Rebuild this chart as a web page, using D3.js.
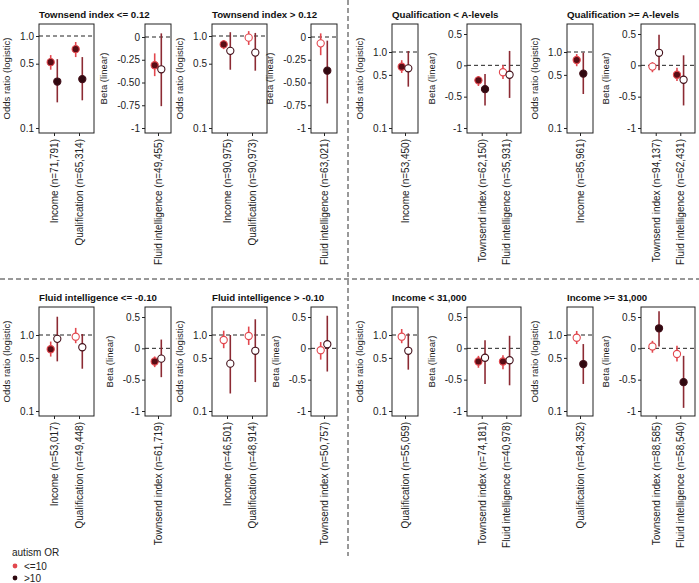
<!DOCTYPE html>
<html>
<head>
<meta charset="utf-8">
<script src="https://cdn.jsdelivr.net/npm/d3@7"></script>
<style>
  body { margin: 0; background: #fff; }
  svg { font-family: Arial, Helvetica, "Liberation Sans", sans-serif; }
</style>
</head>
<body>
<svg id="chart" width="699" height="583"></svg>
<script>
// ---- data ----
const groupTitles = [
  "Townsend index <= 0.12", "Townsend index > 0.12",
  "Qualification < A-levels", "Qualification >= A-levels",
  "Fluid intelligence <= -0.10", "Fluid intelligence > -0.10",
  "Income < 31,000", "Income >= 31,000"
];
const classes = ["<=10", ">10"];

// row: [category, autism OR class, estimate, lower, upper, filled]
const townsendLowOR = [
  ["Income (n=71,791)", "<=10", 0.52, 0.43, 0.62, 1],
  ["Income (n=71,791)", ">10", 0.32, 0.19, 0.56, 1],
  ["Qualification (n=65,314)", "<=10", 0.72, 0.59, 0.86, 1],
  ["Qualification (n=65,314)", ">10", 0.34, 0.20, 0.59, 1]
];
const townsendLowBeta = [
  ["Fluid intelligence (n=49,455)", "<=10", -0.31, -0.43, -0.18, 1],
  ["Fluid intelligence (n=49,455)", ">10", -0.355, -0.76, 0.04, 0]
];
const townsendHighOR = [
  ["Income (n=90,975)", "<=10", 0.81, 0.72, 0.90, 1],
  ["Income (n=90,975)", ">10", 0.69, 0.43, 1.10, 0],
  ["Qualification (n=90,973)", "<=10", 0.96, 0.80, 1.13, 0],
  ["Qualification (n=90,973)", ">10", 0.66, 0.42, 1.08, 0]
];
const townsendHighBeta = [
  ["Fluid intelligence (n=63,021)", "<=10", -0.07, -0.20, 0.04, 0],
  ["Fluid intelligence (n=63,021)", ">10", -0.37, -0.73, -0.04, 1]
];
const qualLowOR = [
  ["Income (n=53,450)", "<=10", 0.64, 0.53, 0.78, 1],
  ["Income (n=53,450)", ">10", 0.61, 0.35, 1.03, 0]
];
const qualLowBeta = [
  ["Townsend index (n=62,150)", "<=10", -0.24, -0.33, -0.17, 1],
  ["Townsend index (n=62,150)", ">10", -0.38, -0.64, -0.14, 1],
  ["Fluid intelligence (n=35,931)", "<=10", -0.11, -0.22, 0.005, 0],
  ["Fluid intelligence (n=35,931)", ">10", -0.15, -0.52, 0.23, 0]
];
const qualHighOR = [
  ["Income (n=85,961)", "<=10", 0.785, 0.65, 0.94, 1],
  ["Income (n=85,961)", ">10", 0.52, 0.28, 0.98, 1]
];
const qualHighBeta = [
  ["Townsend index (n=94,137)", "<=10", -0.02, -0.11, 0.05, 0],
  ["Townsend index (n=94,137)", ">10", 0.20, -0.08, 0.49, 0],
  ["Fluid intelligence (n=62,431)", "<=10", -0.15, -0.25, -0.04, 1],
  ["Fluid intelligence (n=62,431)", ">10", -0.23, -0.64, 0.16, 0]
];
const fluidLowOR = [
  ["Income (n=53,017)", "<=10", 0.65, 0.52, 0.82, 1],
  ["Income (n=53,017)", ">10", 0.89, 0.45, 1.74, 0],
  ["Qualification (n=49,448)", "<=10", 0.95, 0.78, 1.24, 0],
  ["Qualification (n=49,448)", ">10", 0.69, 0.36, 1.03, 0]
];
const fluidLowBeta = [
  ["Townsend index (n=61,719)", "<=10", -0.21, -0.30, -0.13, 1],
  ["Townsend index (n=61,719)", ">10", -0.165, -0.46, 0.14, 0]
];
const fluidHighOR = [
  ["Income (n=46,501)", "<=10", 0.86, 0.67, 1.14, 0],
  ["Income (n=46,501)", ">10", 0.42, 0.17, 1.0, 0],
  ["Qualification (n=48,914)", "<=10", 0.97, 0.74, 1.29, 0],
  ["Qualification (n=48,914)", ">10", 0.62, 0.24, 1.61, 0]
];
const fluidHighBeta = [
  ["Townsend index (n=50,757)", "<=10", -0.03, -0.18, 0.10, 0],
  ["Townsend index (n=50,757)", ">10", 0.065, -0.37, 0.52, 0]
];
const incomeLowOR = [
  ["Qualification (n=55,059)", "<=10", 0.95, 0.78, 1.2, 0],
  ["Qualification (n=55,059)", ">10", 0.62, 0.35, 1.05, 0]
];
const incomeLowBeta = [
  ["Townsend index (n=74,181)", "<=10", -0.21, -0.31, -0.12, 1],
  ["Townsend index (n=74,181)", ">10", -0.15, -0.57, 0.13, 0],
  ["Fluid intelligence (n=40,978)", "<=10", -0.21, -0.335, -0.11, 1],
  ["Fluid intelligence (n=40,978)", ">10", -0.19, -0.59, 0.20, 0]
];
const incomeHighOR = [
  ["Qualification (n=84,352)", "<=10", 0.92, 0.76, 1.13, 0],
  ["Qualification (n=84,352)", ">10", 0.415, 0.227, 0.76, 1]
];
const incomeHighBeta = [
  ["Townsend index (n=88,585)", "<=10", 0.03, -0.07, 0.12, 0],
  ["Townsend index (n=88,585)", ">10", 0.32, 0.03, 0.59, 1],
  ["Fluid intelligence (n=58,540)", "<=10", -0.09, -0.21, 0.04, 0],
  ["Fluid intelligence (n=58,540)", ">10", -0.54, -0.95, -0.12, 1]
];

const orTicks = [1, 0.5, 0.1];
const orTickLabels = ["1.0", "0.5", "0.1"];
const betaTicksA = [0, -0.25, -0.5, -0.75, -1];
const betaTickLabelsA = ["0", "-0.25", "-0.50", "-0.75", "-1"];
const betaTicksB = [0.5, 0, -0.5, -1];
const betaTickLabelsB = ["0.5", "0", "-0.5", "-1"];

// ---- layout ----
const boxH = 109;
const groups = [
  { or: townsendLowOR,  beta: townsendLowBeta,  orX: [39, 94],   betaX: [145, 171], top: 24,  kind: "a" },
  { or: townsendHighOR, beta: townsendHighBeta, orX: [212, 267], betaX: [311, 337], top: 24,  kind: "a" },
  { or: qualLowOR,      beta: qualLowBeta,      orX: [392, 418], betaX: [467, 521], top: 24,  kind: "b" },
  { or: qualHighOR,     beta: qualHighBeta,     orX: [567, 593], betaX: [641, 695], top: 24,  kind: "b" },
  { or: fluidLowOR,     beta: fluidLowBeta,     orX: [39, 94],   betaX: [145, 171], top: 307, kind: "b" },
  { or: fluidHighOR,    beta: fluidHighBeta,    orX: [212, 267], betaX: [311, 337], top: 307, kind: "b" },
  { or: incomeLowOR,    beta: incomeLowBeta,    orX: [392, 418], betaX: [467, 521], top: 307, kind: "b" },
  { or: incomeHighOR,   beta: incomeHighBeta,   orX: [567, 593], betaX: [641, 695], top: 307, kind: "b" }
];

const lineColor = { "<=10": "#e2474e", ">10": "#8c2a33" };
const ptStroke = { "<=10": "#e2474e", ">10": "#43101a" };
const ptFill = { "<=10": "#5a0d15", ">10": "#300910" };
const dodge = { "<=10": -3.3, ">10": 3.3 };
const ink = "#222";

const svg = d3.select("#chart");

function panel(rows, xr, top, y, ticks, labels, refValue, yTitle) {
  const cats = Array.from(new Set(rows.map((d) => d[0])));
  const x = d3.scalePoint().domain(cats).range(xr).padding(0.6);
  const bottom = top + boxH;
  const g = svg.append("g");

  // y axis
  const ya = g
    .append("g")
    .attr("transform", `translate(${xr[0]},0)`)
    .call(
      d3.axisLeft(y).tickValues(ticks).tickFormat((_, i) => labels[i]).tickSize(3).tickPadding(2)
    );
  ya.select(".domain").remove();
  ya.selectAll("line").attr("stroke", ink);
  ya.selectAll("text").attr("font-size", 10).attr("fill", ink).attr("font-family", null);

  // x axis, rotated labels
  const xa = g
    .append("g")
    .attr("transform", `translate(0,${bottom})`)
    .call(d3.axisBottom(x).tickSize(3));
  xa.select(".domain").remove();
  xa.selectAll("line").attr("stroke", ink);
  xa.selectAll("text")
    .attr("font-size", 10)
    .attr("fill", ink)
    .attr("font-family", null)
    .attr("transform", "rotate(-90)")
    .attr("text-anchor", "end")
    .attr("x", -6)
    .attr("y", 0)
    .attr("dy", "0.35em");

  // reference line
  g.append("line")
    .attr("x1", xr[0])
    .attr("x2", xr[1])
    .attr("y1", y(refValue))
    .attr("y2", y(refValue))
    .attr("stroke", ink)
    .attr("stroke-width", 1)
    .attr("stroke-dasharray", "4,3");

  // error bars and points
  const pts = g.selectAll(".pt").data(rows).enter().append("g");
  pts
    .append("line")
    .attr("x1", (d) => x(d[0]) + dodge[d[1]])
    .attr("x2", (d) => x(d[0]) + dodge[d[1]])
    .attr("y1", (d) => y(d[3]))
    .attr("y2", (d) => y(d[4]))
    .attr("stroke", (d) => lineColor[d[1]])
    .attr("stroke-width", 1.6);
  pts
    .append("circle")
    .attr("cx", (d) => x(d[0]) + dodge[d[1]])
    .attr("cy", (d) => y(d[2]))
    .attr("r", 3.6)
    .attr("fill", (d) => (d[5] ? ptFill[d[1]] : "#fff"))
    .attr("stroke", (d) => ptStroke[d[1]])
    .attr("stroke-width", 1.1);

  // box
  g.append("rect")
    .attr("x", xr[0])
    .attr("y", top)
    .attr("width", xr[1] - xr[0])
    .attr("height", boxH)
    .attr("fill", "none")
    .attr("stroke", ink)
    .attr("stroke-width", 1);

  // y title
  const bb = ya.node().getBBox();
  const tx = xr[0] + bb.x - 10;
  g.append("text")
    .attr("transform", `translate(${tx},${top + boxH / 2}) rotate(-90)`)
    .attr("text-anchor", "middle")
    .attr("font-size", 9.5)
    .attr("fill", ink)
    .text(yTitle);
}

groups.forEach((grp, i) => {
  const top = grp.top;
  let yOr, yBeta, bTicks, bLabels;
  if (grp.kind === "a") {
    yOr = d3.scaleLog().domain([0.1, 1]).range([top + 104, top + 12]);
    yBeta = d3.scaleLinear().domain([-1, 0]).range([top + 104, top + 13]);
    bTicks = betaTicksA;
    bLabels = betaTickLabelsA;
  } else {
    yOr = d3.scaleLog().domain([0.1, 1]).range([top + 104, top + 28]);
    yBeta = d3.scaleLinear().domain([-1, 0.5]).range([top + 104, top + 10]);
    bTicks = betaTicksB;
    bLabels = betaTickLabelsB;
  }
  panel(grp.or, grp.orX, top, yOr, orTicks, orTickLabels, 1, "Odds ratio (logistic)");
  panel(grp.beta, grp.betaX, top, yBeta, bTicks, bLabels, 0, "Beta (linear)");

  svg.append("text")
    .attr("x", grp.orX[0])
    .attr("y", top - 6)
    .attr("font-size", 9.7)
    .attr("font-weight", "bold")
    .attr("fill", "#111")
    .text(groupTitles[i]);
});

// quadrant dividers
svg.append("line")
  .attr("x1", 348).attr("x2", 348).attr("y1", 0).attr("y2", 556)
  .attr("stroke", "#333").attr("stroke-width", 1).attr("stroke-dasharray", "5,3");
svg.append("line")
  .attr("x1", 0).attr("x2", 699).attr("y1", 279).attr("y2", 279)
  .attr("stroke", "#333").attr("stroke-width", 1).attr("stroke-dasharray", "5,3");

// legend
const legend = svg.append("g").attr("transform", "translate(10,556)");
legend.append("text").attr("x", 2).attr("y", 0).attr("font-size", 10).attr("fill", ink).text("autism OR");
classes.forEach((c, i) => {
  legend.append("circle")
    .attr("cx", 5).attr("cy", 10 + i * 12).attr("r", 2.4)
    .attr("fill", i === 0 ? lineColor[c] : ptFill[c]);
  legend.append("text")
    .attr("x", 14).attr("y", 10 + i * 12).attr("dy", "0.35em")
    .attr("font-size", 10).attr("fill", ink).text(c);
});
</script>
</body>
</html>
